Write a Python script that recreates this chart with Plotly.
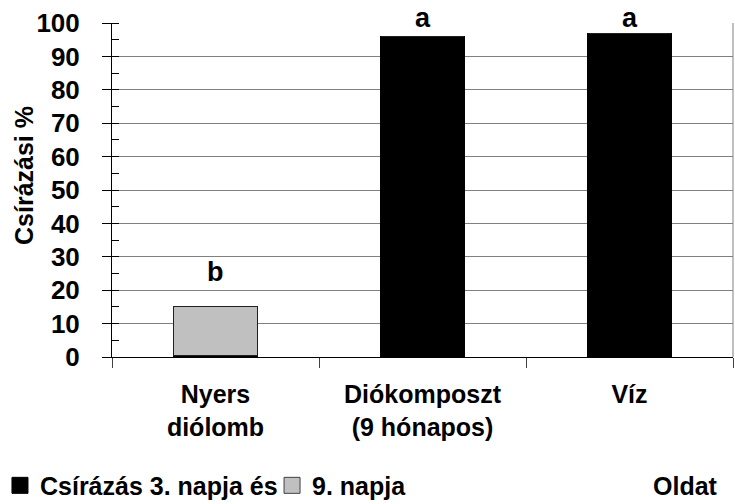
import plotly.graph_objects as go

categories = ["Nyers<br>diólomb", "Diókomposzt<br>(9 hónapos)", "Víz"]
day3 = [0.5, 96, 97]
day9_extra = [14.5, 0, 0]
letters = ["b", "a", "a"]
letter_y = [20.3, 96.5, 96.5]

series_names = ["Csírázás 3. napja és", "9. napja"]
series_colors = ["black", "#c0c0c0"]

FONT = "Liberation Sans, Arial, sans-serif"

fig = go.Figure()
fig.add_bar(name=series_names[0], x=categories, y=day3, showlegend=False,
            marker=dict(color=series_colors[0], line=dict(color="black", width=1)))
fig.add_bar(name=series_names[1], x=categories, y=day9_extra, showlegend=False,
            marker=dict(color=series_colors[1], line=dict(color="#202020", width=1)))

# legend-only entries with larger square symbols
fig.add_scatter(name=series_names[0], x=[None], y=[None], mode="markers", legend="legend",
                marker=dict(symbol="square", size=16, color=series_colors[0],
                            line=dict(color="black", width=1)))
fig.add_scatter(name=series_names[1], x=[None], y=[None], mode="markers", legend="legend2",
                marker=dict(symbol="square", size=16, color=series_colors[1],
                            line=dict(color="#404040", width=1)))

for c, t, yy in zip(categories, letters, letter_y):
    fig.add_annotation(x=c, y=yy, text=t, showarrow=False, yanchor="bottom",
                       font=dict(family=FONT, size=27, color="black", weight="bold"))

fig.add_annotation(xref="paper", yref="paper", x=-0.1417, y=0.542, text="Csírázási %",
                   textangle=-90, showarrow=False, xanchor="center", yanchor="middle",
                   font=dict(family=FONT, size=25, color="black", weight="bold"))
fig.add_annotation(xref="paper", yref="paper", x=0.923, y=-0.385, text="Oldat",
                   showarrow=False, xanchor="center", yanchor="middle",
                   font=dict(family=FONT, size=25, color="black", weight="bold"))

fig.add_shape(type="line", xref="paper", yref="y", x0=1, x1=1, y0=0, y1=100,
              line=dict(color="#808080", width=1))

legend_font = dict(family=FONT, size=25, color="black", weight="bold")
fig.update_layout(
    width=735, height=504,
    margin=dict(l=112, r=2, t=23, b=147, autoexpand=False),
    paper_bgcolor="white", plot_bgcolor="white",
    barmode="stack", bargap=0.595,
    font=dict(family=FONT, color="black"),
    showlegend=True,
    legend=dict(orientation="h", x=-0.1804, y=-0.385, xanchor="left", yanchor="middle",
                font=legend_font, bgcolor="rgba(0,0,0,0)"),
    legend2=dict(orientation="h", x=0.2577, y=-0.385, xanchor="left", yanchor="middle",
                 font=legend_font, bgcolor="rgba(0,0,0,0)"),
    xaxis=dict(type="category", tickson="boundaries", ticks="outside", ticklen=10,
               tickcolor="#404040", showline=True, linecolor="black", linewidth=1,
               showgrid=False, ticklabelstandoff=15, automargin=False,
               tickfont=dict(family=FONT, size=25, color="black", weight="bold")),
    yaxis=dict(range=[0, 100], dtick=10, ticks="outside", ticklen=9, tickcolor="black",
               showline=True, linecolor="black", linewidth=1, zeroline=False,
               showgrid=True, gridcolor="#808080", gridwidth=1, automargin=False,
               minor=dict(dtick=5, ticks="inside", ticklen=7, tickcolor="black", showgrid=False),
               ticklabelstandoff=17,
               tickfont=dict(family=FONT, size=26, color="black", weight="bold")),
)

fig.write_html("out.html", config={"displayModeBar": False},
               post_script="document.body.style.margin='0';")
